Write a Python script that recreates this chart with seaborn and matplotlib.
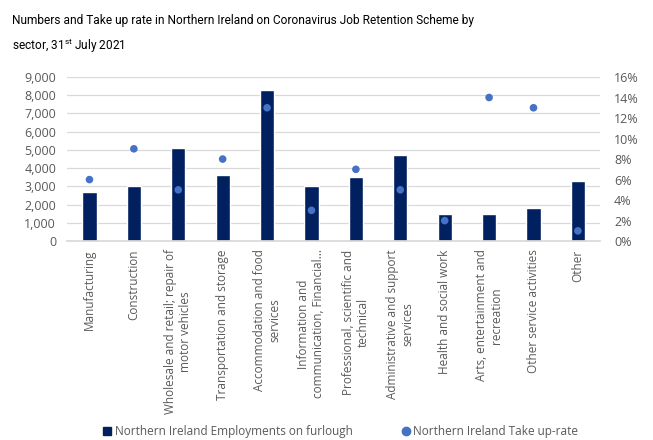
import matplotlib
matplotlib.use("Agg")
import matplotlib.pyplot as plt
from matplotlib.ticker import FuncFormatter, MultipleLocator
from matplotlib.lines import Line2D
import seaborn as sns
import pandas as pd

sectors = [
    "Manufacturing",
    "Construction",
    "Wholesale and retail; repair of\nmotor vehicles",
    "Transportation and storage",
    "Accommodation and food\nservices",
    "Information and\ncommunication, Financial...",
    "Professional, scientific and\ntechnical",
    "Administrative and support\nservices",
    "Health and social work",
    "Arts, entertainment and\nrecreation",
    "Other service activities",
    "Other",
]
furlough = [2700, 3000, 5100, 3600, 8300, 3000, 3500, 4700, 1500, 1500, 1800, 3300]
take_up = [0.06, 0.09, 0.05, 0.08, 0.13, 0.03, 0.07, 0.05, 0.02, 0.14, 0.13, 0.01]

bar_label = "Northern Ireland Employments on furlough"
dot_label = "Northern Ireland Take up-rate"

navy = "#002060"
blue = "#4472C4"
grey = "#595959"

sns.set_theme(style="white")
plt.rcParams["font.family"] = ["Open Sans", "DejaVu Sans"]
# title face is narrower than Open Sans, Roboto gets close
title_font = "Roboto"
plt.rcParams["mathtext.fontset"] = "custom"
plt.rcParams["mathtext.rm"] = title_font
plt.rcParams["mathtext.it"] = title_font

df = pd.DataFrame({"sector": sectors, "furlough": furlough, "rate": take_up})

fig = plt.figure(figsize=(6.53, 4.40), dpi=100)
ax = fig.add_axes([0.103, 0.452, 0.816, 0.373])

sns.barplot(data=df, x="sector", y="furlough", color=navy, width=0.32,
            saturation=1, ax=ax, zorder=2)
ax.set_ylim(0, 9000)
ax.yaxis.set_major_locator(MultipleLocator(1000))
ax.yaxis.set_major_formatter(FuncFormatter(lambda v, p: f"{int(v):,}"))
ax.grid(axis="y", color="#D9D9D9", linewidth=0.9, zorder=0)
ax.set_axisbelow(True)
ax.set_xlabel("")
ax.set_ylabel("")
for s in ["left", "right", "top"]:
    ax.spines[s].set_visible(False)
ax.spines["bottom"].set_color("#D9D9D9")
ax.tick_params(axis="y", length=0, labelsize=9, labelcolor=grey, pad=8)
ax.tick_params(axis="x", length=0, labelsize=8.5, labelcolor=grey, pad=6)
ax.set_xticks(range(len(sectors)))
ax.set_xticklabels(sectors, rotation=90, va="top", ha="center",
                   multialignment="center")

ax2 = ax.twinx()
sns.scatterplot(data=df, x="sector", y="rate", color=blue, s=30,
                edgecolor="none", ax=ax2, zorder=3)
ax2.set_ylim(0, 0.16)
ax2.yaxis.set_major_locator(MultipleLocator(0.02))
ax2.yaxis.set_major_formatter(FuncFormatter(lambda v, p: f"{round(v * 100)}%"))
ax2.set_ylabel("")
ax2.set_xlabel("")
for s in ["left", "right", "top", "bottom"]:
    ax2.spines[s].set_visible(False)
ax2.tick_params(axis="y", length=0, labelsize=9, labelcolor=grey, pad=10)
ax.set_xlim(-0.5, len(sectors) - 0.5)

title_kw = dict(fontsize=8.6, family=[title_font, "DejaVu Sans"],
                color="#000000", va="center")
fig.text(0.018, 0.953,
         "Numbers and Take up rate in Northern Ireland on Coronavirus Job Retention Scheme by",
         **title_kw)
fig.text(0.018, 0.895, r"sector, 31$^{\mathrm{st}}$ July 2021", **title_kw)

handles = [
    Line2D([], [], marker="s", linestyle="none", color=navy, markersize=6),
    Line2D([], [], marker="o", linestyle="none", color=blue, markersize=6),
]
fig.legend(handles, [bar_label, dot_label], loc="center", ncol=2,
           bbox_to_anchor=(0.52, 0.02), frameon=False, fontsize=8.5,
           labelcolor=grey, handletextpad=0.1, columnspacing=4.0,
           handlelength=1.0)

fig.savefig("out.png", dpi=100)
